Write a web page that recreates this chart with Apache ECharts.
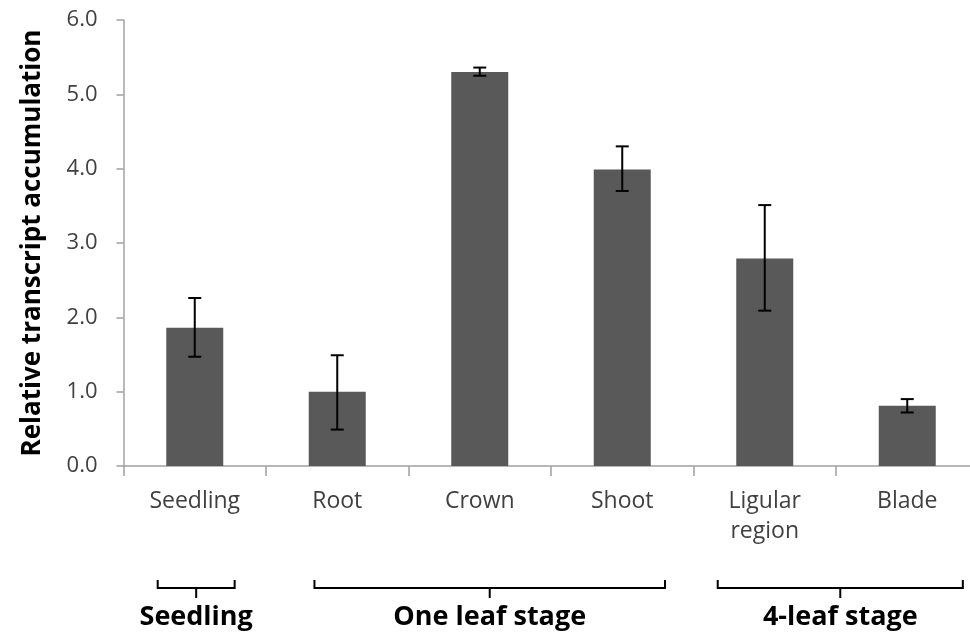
<!DOCTYPE html>
<html>
<head>
<meta charset="utf-8">
<script src="https://cdn.jsdelivr.net/npm/echarts@6/dist/echarts.min.js"></script>
<style>
  html, body { margin: 0; padding: 0; background: #fff; }
  #chart { width: 970px; height: 638px; }
</style>
</head>
<body>
<div id="chart"></div>
<script>
// tissues along the x axis
const categories = ['Seedling', 'Root', 'Crown', 'Shoot', 'Ligular\nregion', 'Blade']
// mean relative transcript accumulation
const means = [1.86, 1.0, 5.30, 3.99, 2.79, 0.81]
// error bar ends
const errLow = [1.47, 0.49, 5.25, 3.70, 2.09, 0.72]
const errHigh = [2.26, 1.49, 5.36, 4.30, 3.51, 0.90]
// y axis ticks
const yTicks = [0, 1, 2, 3, 4, 5, 6]
// developmental stage groups, spans in category units
const stageNames = ['Seedling', 'One leaf stage', '4-leaf stage']
const stageFrom = [-0.26, 0.84, 3.67]
const stageTo = [0.28, 3.30, 5.39]

const FONT = 'Open Sans, sans-serif'
const axisGray = '#a0a0a0'
const labelGray = '#404040'

const chart = echarts.init(document.getElementById('chart'), null, { renderer: 'canvas' })

chart.setOption({
  animation: false,
  textStyle: { fontFamily: FONT },
  // plot runs past the right edge of the picture, as in the original crop
  grid: { left: 123.5, right: -8.5, top: 20, bottom: 172, outerBoundsMode: 'none', containLabel: false },
  xAxis: {
    type: 'category', data: categories,
    axisLine: { lineStyle: { color: axisGray, width: 1.5 } },
    axisTick: { show: true, length: 10, lineStyle: { color: axisGray, width: 1.5 } },
    axisLabel: { color: labelGray, fontFamily: FONT, fontSize: 23, lineHeight: 30, margin: 20, interval: 0 },
  },
  yAxis: {
    type: 'value', min: yTicks[0], max: yTicks[yTicks.length - 1], interval: 1,
    name: 'Relative transcript accumulation', nameLocation: 'middle', nameGap: 78,
    nameTextStyle: { color: '#000', fontFamily: FONT, fontWeight: 'bold', fontSize: 26 },
    axisLine: { show: true, lineStyle: { color: axisGray, width: 1.5 } },
    axisTick: { show: true, inside: false, length: 7, lineStyle: { color: axisGray, width: 1.5 } },
    axisLabel: { color: labelGray, fontFamily: FONT, fontSize: 22, margin: 26, formatter: v => v.toFixed(1) },
    splitLine: { show: false },
  },
  series: [
    {
      type: 'bar', data: means, barWidth: 57,
      itemStyle: { color: '#595959' },
    },
    {
      type: 'custom',
      data: means.map((_, i) => [i, errLow[i], errHigh[i]]),
      z: 10,
      renderItem (params, api) {
        const lo = api.coord([api.value(0), api.value(1)])
        const hi = api.coord([api.value(0), api.value(2)])
        const w = 6.5
        const style = { stroke: '#000', lineWidth: 2 }
        return {
          type: 'group',
          children: [
            { type: 'line', shape: { x1: hi[0], y1: hi[1], x2: lo[0], y2: lo[1] }, style },
            { type: 'line', shape: { x1: hi[0] - w, y1: hi[1], x2: hi[0] + w, y2: hi[1] }, style },
            { type: 'line', shape: { x1: lo[0] - w, y1: lo[1], x2: lo[0] + w, y2: lo[1] }, style },
          ],
        }
      },
    },
  ],
})

// stage brackets below the axis labels
function drawStages () {
  const p0 = chart.convertToPixel({ xAxisIndex: 0 }, 0)
  const p1 = chart.convertToPixel({ xAxisIndex: 0 }, 1)
  const step = p1 - p0
  const toX = c => p0 + c * step
  const top = 580, bar = 588, stem = 598, textY = 617
  const lineStyle = { stroke: '#000', lineWidth: 2, fill: null }
  const elements = []
  stageNames.forEach((name, i) => {
    const x1 = toX(stageFrom[i]), x2 = toX(stageTo[i]), mid = (x1 + x2) / 2
    elements.push({ type: 'polyline', shape: { points: [[x1, top], [x1, bar], [x2, bar], [x2, top]] }, style: lineStyle })
    elements.push({ type: 'line', shape: { x1: mid, y1: bar, x2: mid, y2: stem }, style: lineStyle })
    elements.push({ type: 'text', x: mid, y: textY,
      style: { text: name, fill: '#000', font: 'bold 27px ' + FONT, align: 'center', verticalAlign: 'middle' } })
  })
  chart.setOption({ graphic: elements })
}
drawStages()
</script>
</body>
</html>
